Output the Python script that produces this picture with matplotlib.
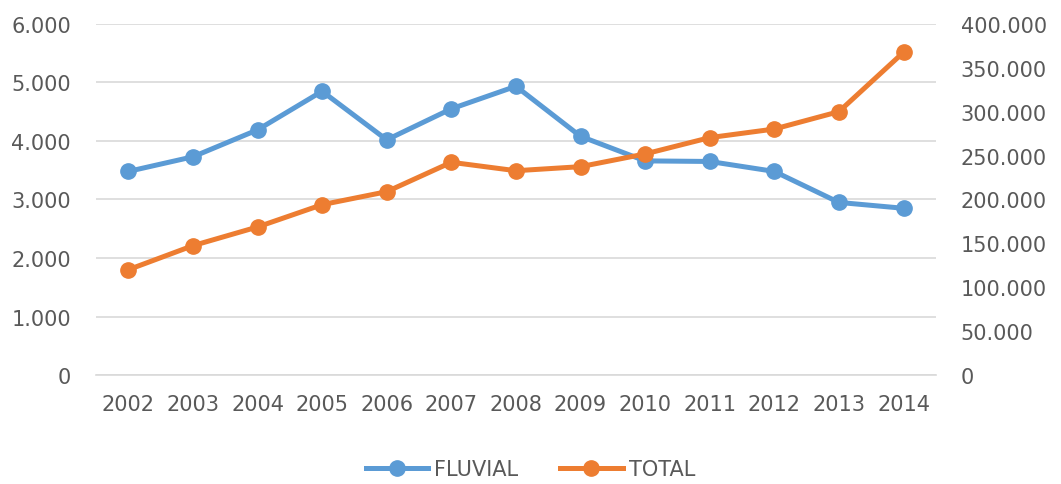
import matplotlib
matplotlib.use("Agg")
import matplotlib.pyplot as plt
from matplotlib.ticker import FuncFormatter

years = ["2002", "2003", "2004", "2005", "2006", "2007", "2008", "2009",
         "2010", "2011", "2012", "2013", "2014"]
fluvial = [3480, 3730, 4190, 4850, 4020, 4550, 4935, 4080, 3660, 3650, 3480, 2950, 2850]
total = [120000, 147400, 168700, 194100, 208900, 242400, 232800, 237400,
         251900, 270500, 280300, 300100, 367700]
left_ticks = [0, 1000, 2000, 3000, 4000, 5000, 6000]
right_ticks = [0, 50000, 100000, 150000, 200000, 250000, 300000, 350000, 400000]

BLUE = "#5B9BD5"
ORANGE = "#ED7D31"
GRAY = "#595959"
GRID = "#D9D9D9"

plt.rcParams["font.family"] = ["DejaVu Sans"]

def dotfmt(v, pos=None):
    return f"{int(round(v)):,}".replace(",", ".")

fig = plt.figure(figsize=(10.61, 4.85), dpi=100)
ax = fig.add_axes([0.0905, 0.2247, 0.7915, 0.7238])
ax2 = ax.twinx()

x = list(range(len(years)))
l1, = ax.plot(x, fluvial, color=BLUE, lw=3.6, marker="o", ms=11, label="FLUVIAL", zorder=3)
l2, = ax2.plot(x, total, color=ORANGE, lw=3.6, marker="o", ms=11, label="TOTAL", zorder=3)

ax.set_xlim(-0.5, len(years) - 0.5)
ax.set_ylim(0, 6000)
ax2.set_ylim(0, 400000)
ax.set_yticks(left_ticks)
ax2.set_yticks(right_ticks)
ax.yaxis.set_major_formatter(FuncFormatter(dotfmt))
ax2.yaxis.set_major_formatter(FuncFormatter(dotfmt))
ax.set_xticks(x)
ax.set_xticklabels(years)

ax.grid(axis="y", color=GRID, lw=1.2)
ax.set_axisbelow(True)
for a in (ax, ax2):
    for s in a.spines.values():
        s.set_visible(False)
ax.spines["bottom"].set_visible(True)
ax.spines["bottom"].set_color(GRID)
ax.spines["bottom"].set_linewidth(1.2)

ax.tick_params(axis="y", length=0, pad=18, labelsize=15, labelcolor=GRAY)
ax2.tick_params(axis="y", length=0, pad=18, labelsize=15, labelcolor=GRAY)
ax.tick_params(axis="x", length=0, pad=14, labelsize=15, labelcolor=GRAY)

fig.legend(handles=[l1, l2], loc="center", bbox_to_anchor=(0.5, 0.03), ncol=2,
           frameon=False, fontsize=15, labelcolor=GRAY, handlelength=3,
           handletextpad=0.3, columnspacing=2)

fig.savefig("out.png", dpi=100, facecolor="white")
